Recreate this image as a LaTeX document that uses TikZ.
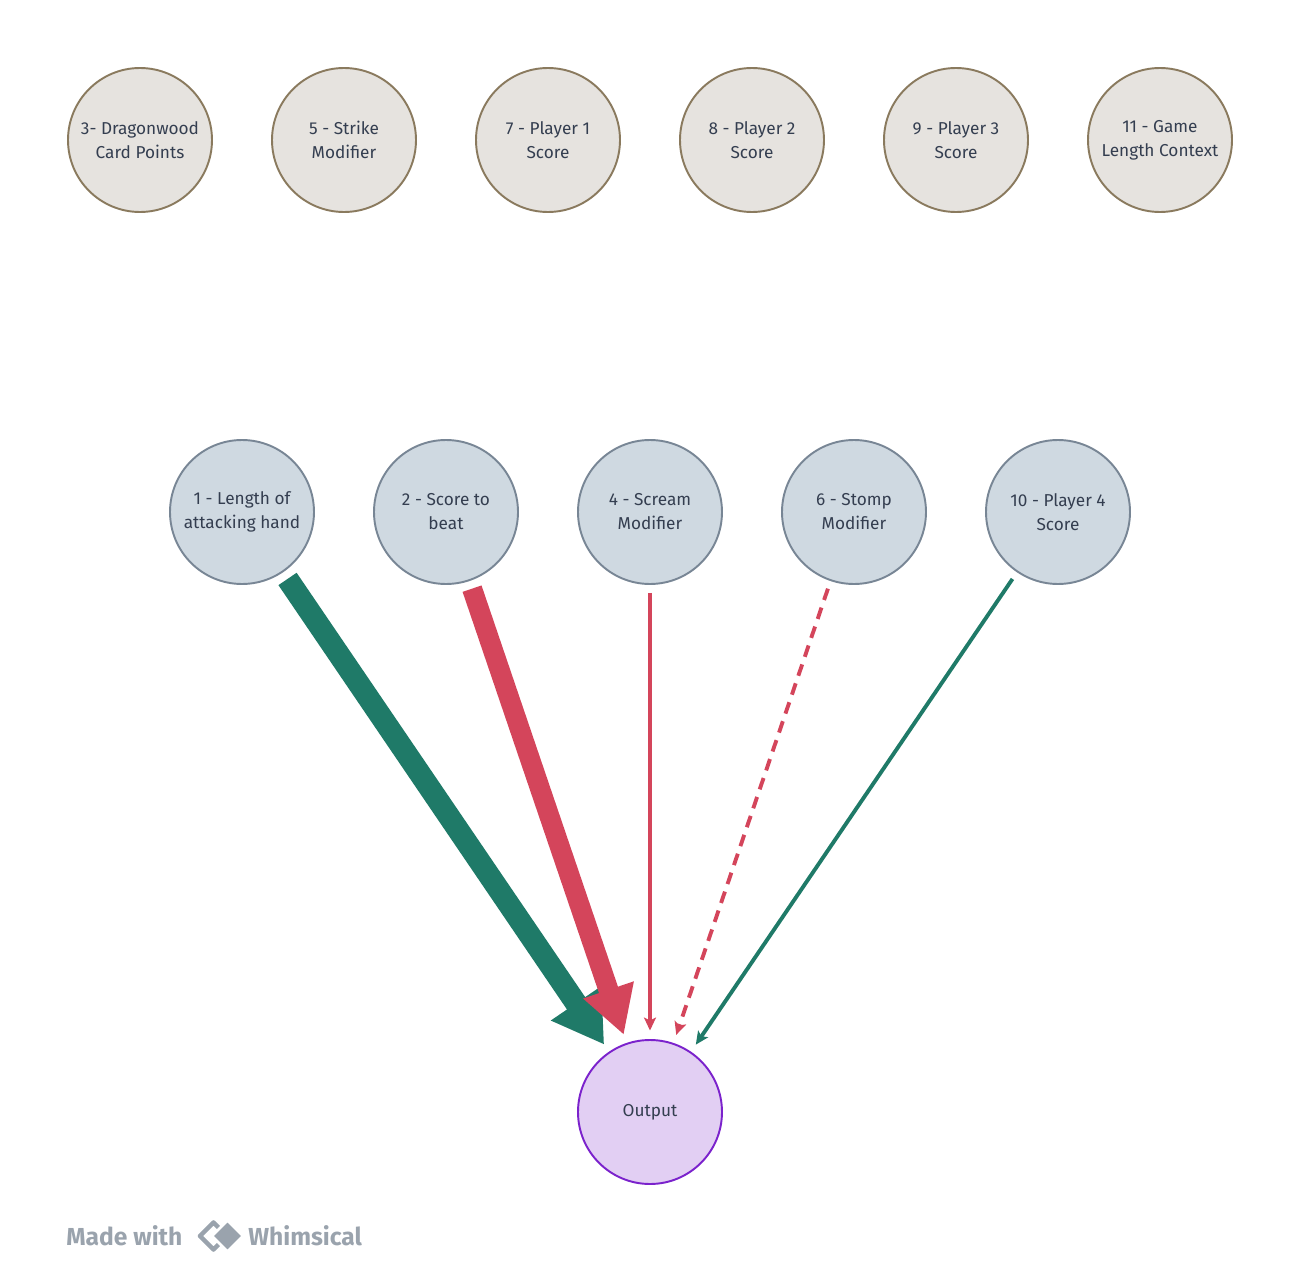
\documentclass[tikz,border=0pt]{standalone}
\usepackage{fontspec}
\setmainfont{Fira Sans}
\usetikzlibrary{arrows.meta,positioning}
\definecolor{topfill}{HTML}{E6E3DF}
\definecolor{topline}{HTML}{8A7A5E}
\definecolor{midfill}{HTML}{CFD9E1}
\definecolor{midline}{HTML}{788695}
\definecolor{outfill}{HTML}{E2CFF3}
\definecolor{outline}{HTML}{7B22CC}
\definecolor{txt}{HTML}{343E50}
\definecolor{arrgreen}{HTML}{1F7A68}
\definecolor{arrred}{HTML}{D4455B}
\definecolor{logo}{HTML}{9AA3AD}
\tikzset{
  font=\fontsize{9.8}{13.6}\selectfont,
  circ/.style={circle, line width=1.1pt, minimum size=2.88cm, inner sep=0pt,
               align=center, text=txt},
  topnode/.style={circ, draw=topline, fill=topfill},
  inputnode/.style={circ, draw=midline, fill=midfill},
  outnode/.style={circ, draw=outline, fill=outfill},
  gap/.style={shorten <=0.16cm, shorten >=0.17cm},
  bigarr/.style={gap, line width=#1},
  thinarr/.style={gap, line width=2.2pt, -{Stealth[length=0.26cm, width=0.24cm, inset=0.06cm]}},
  logotext/.style={anchor=west, text=logo, inner sep=0pt, font=\fontsize{14}{16}\selectfont\bfseries},
}

\begin{document}
\begin{tikzpicture}
  \useasboundingbox (0,0) rectangle (26,-25.72);
  % top row, not connected
  \node[topnode] (dragon) at (2.80,-2.80) {3- Dragonwood\\Card Points};
  \node[topnode] (strike) at (6.88,-2.80) {5 - Strike\\Modifier};
  \node[topnode] (pone) at (10.96,-2.80) {7 - Player 1\\Score};
  \node[topnode] (ptwo) at (15.04,-2.80) {8 - Player 2\\Score};
  \node[topnode] (pthree) at (19.12,-2.80) {9 - Player 3\\Score};
  \node[topnode] (gamelen) at (23.20,-2.80) {11 - Game\\Length Context};
  % inputs
  \node[inputnode] (handlen) at (4.84,-10.24) {1 - Length of\\attacking hand};
  \node[inputnode] (tobeat) at (8.92,-10.24) {2 - Score to\\beat};
  \node[inputnode] (scream) at (13.00,-10.24) {4 - Scream\\Modifier};
  \node[inputnode] (stomp) at (17.08,-10.24) {6 - Stomp\\Modifier};
  \node[inputnode] (pfour) at (21.16,-10.24) {10 - Player 4\\Score};
  \node[outnode] (output) at (13.00,-22.24) {Output};
  % weights
  \draw[bigarr=0.44cm, arrgreen, -{Triangle[length=1.0cm, width=1.15cm]}] (handlen) -- (output);
  \draw[bigarr=0.40cm, arrred, -{Triangle[length=0.95cm, width=1.0cm]}] (tobeat) -- (output);
  \draw[thinarr, arrred] (scream) -- (output);
  \draw[thinarr, arrred, dash pattern=on 0.24cm off 0.16cm] (stomp) -- (output);
  \draw[thinarr, arrgreen] (pfour) -- (output);
  % footer
  \node[logotext] (made) at (1.32,-24.72) {Made with};
  \draw[logo, line width=2.6pt, line join=round] (4.00,-24.72) -- ++(0.27,0.27) -- ++(0.27,-0.27) -- ++(-0.27,-0.27) -- cycle;
  \fill[logo, draw=white, line width=1.5pt] (4.24,-24.72) -- ++(0.31,0.31) -- ++(0.31,-0.31) -- ++(-0.31,-0.31) -- cycle;
  \node[logotext] (whim) at (4.96,-24.72) {Whimsical};
\end{tikzpicture}
\end{document}
